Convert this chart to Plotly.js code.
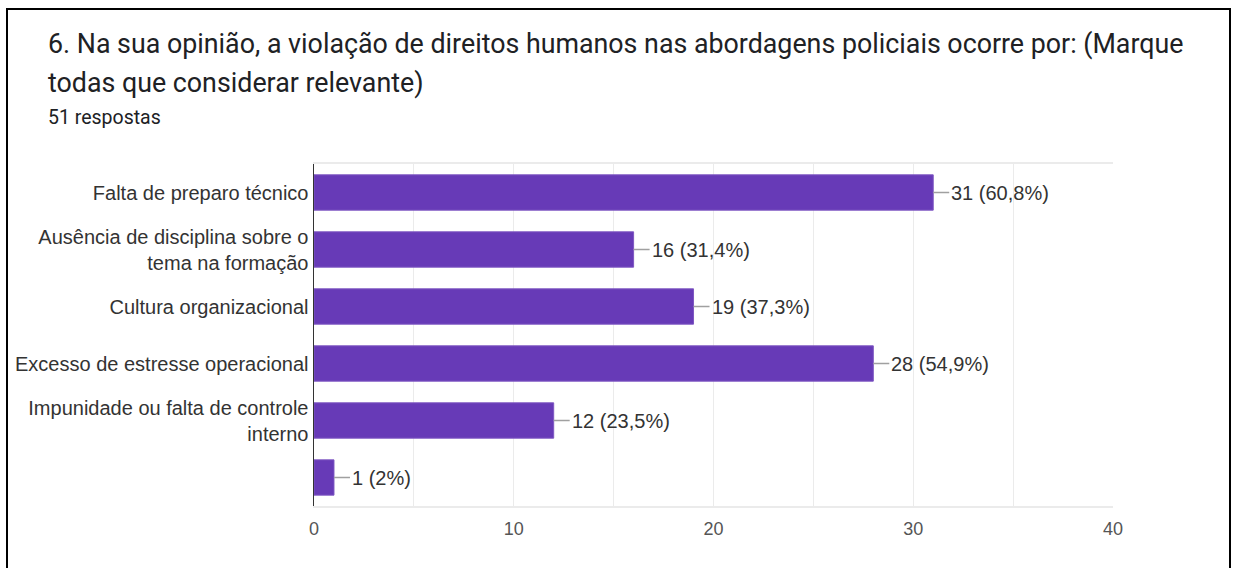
<!DOCTYPE html>
<html>
<head>
<meta charset="utf-8">
<script src="https://cdn.plot.ly/plotly-3.0.1.min.js"></script>
<style>
  html, body { margin: 0; padding: 0; background: #ffffff; }
  #wrap { position: relative; width: 1235px; height: 568px; overflow: hidden; background: #fff; }
  #chart { position: absolute; left: 0; top: 0; width: 1235px; height: 568px; }
  #frame { position: absolute; left: 6px; top: 8px; width: 1225px; height: 600px; border: 2px solid #000; box-sizing: border-box; pointer-events: none; }
</style>
</head>
<body>
<div id="wrap">
  <div id="chart"></div>
  <div id="frame"></div>
</div>
<script>
const titleLine1 = "6. Na sua opinião, a violação de direitos humanos nas abordagens policiais ocorre por: (Marque";
const titleLine2 = "todas que considerar relevante)";
const responsesText = "51 respostas";

const categories = [
  "Falta de preparo técnico",
  "Ausência de disciplina sobre o<br>tema na formação",
  "Cultura organizacional",
  "Excesso de estresse operacional",
  "Impunidade ou falta de controle<br>interno",
  " "
];
const counts = [31, 16, 19, 28, 12, 1];
const percentLabels = ["60,8%", "31,4%", "37,3%", "54,9%", "23,5%", "2%"];
const xTickVals = [0, 10, 20, 30, 40];
const xTickText = ["0", "10", "20", "30", "40"];

const barColor = "#673ab7";

const trace = {
  type: "bar",
  orientation: "h",
  x: counts,
  y: categories,
  marker: { color: barColor, line: { color: "#7e57c2", width: 1 } },
  hoverinfo: "none"
};

const dataAnnotations = categories.map((c, i) => ({
  x: counts[i],
  y: c,
  xref: "x",
  yref: "y",
  text: counts[i] + " (" + percentLabels[i] + ")",
  showarrow: true,
  arrowhead: 0,
  arrowwidth: 1.5,
  arrowcolor: "#a0a0a0",
  ax: 16,
  ay: 0,
  xanchor: "left",
  standoff: 0,
  font: { family: "Liberation Sans, Arial, sans-serif", size: 20, color: "#333333" }
}));

const textAnnotations = [
  { text: titleLine1, x: 46, y: 44, size: 26.8, color: "#202124", family: "Roboto, sans-serif" },
  { text: titleLine2, x: 46, y: 83, size: 26.8, color: "#202124", family: "Roboto, sans-serif" },
  { text: responsesText, x: 46, y: 117, size: 19.5, color: "#202124", family: "Roboto, sans-serif" }
].map(t => ({
  text: t.text,
  xref: "paper",
  yref: "paper",
  x: (t.x - 314) / 799,
  y: (506 - t.y) / 342,
  xanchor: "left",
  yanchor: "middle",
  showarrow: false,
  font: { family: t.family, size: t.size, color: t.color }
}));

const layout = {
  width: 1235,
  height: 568,
  margin: { l: 314, r: 122, t: 164, b: 62 },
  paper_bgcolor: "#ffffff",
  plot_bgcolor: "#ffffff",
  showlegend: false,
  bargap: 0.38,
  xaxis: {
    range: [0, 40],
    tickvals: xTickVals,
    ticktext: xTickText,
    showgrid: true,
    gridcolor: "#ebebeb",
    gridwidth: 1,
    minor: { dtick: 5, showgrid: true, gridcolor: "#ebebeb", gridwidth: 1 },
    zeroline: false,
    showline: true,
    linecolor: "#ebebeb",
    linewidth: 2,
    mirror: true,
    ticks: "",
    ticklabelstandoff: 5,
    tickfont: { family: "Liberation Sans, Arial, sans-serif", size: 18, color: "#555555" },
    fixedrange: true
  },
  yaxis: {
    autorange: "reversed",
    type: "category",
    showgrid: false,
    zeroline: false,
    showline: true,
    linecolor: "#333333",
    linewidth: 1.5,
    ticks: "",
    tickfont: { family: "Liberation Sans, Arial, sans-serif", size: 20, color: "#333333" },
    fixedrange: true
  },
  annotations: dataAnnotations.concat(textAnnotations)
};

Plotly.newPlot("chart", [trace], layout, { displayModeBar: false, staticPlot: true });
</script>
</body>
</html>
